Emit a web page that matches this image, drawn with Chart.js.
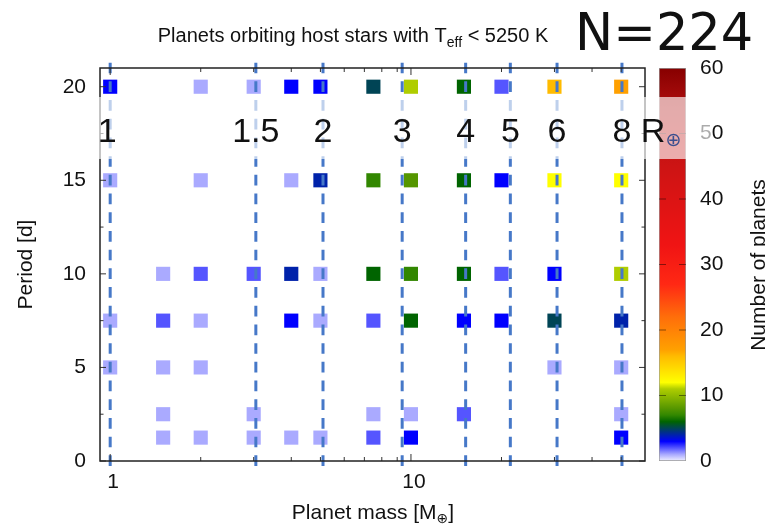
<!DOCTYPE html>
<html>
<head>
<meta charset="utf-8">
<script src="https://cdn.jsdelivr.net/npm/chart.js@4.4.1/dist/chart.umd.min.js"></script>
<style>
  body { margin: 0; background: #fff; }
  #wrap { position: relative; width: 765px; height: 527px; }
  #wrap canvas { position: absolute; left: 0; top: 0; }
</style>
</head>
<body>
<div id="wrap">
  <canvas id="cbar" width="765" height="527"></canvas>
  <canvas id="chart" width="765" height="527"></canvas>
</div>
<script>
// bins of the histogram
const masses = [1, 1.5, 2, 3, 4, 5, 7.5, 10, 15, 20, 30, 50];
const periods = [1.25, 2.5, 5, 7.5, 10, 15, 20];
// planets per cell: one row per period, one column per mass (0 = empty cell)
const counts = [
  [0, 1, 1, 1, 1, 1, 2, 3, 0, 0, 0, 3],
  [0, 1, 0, 1, 0, 0, 1, 1, 2, 0, 0, 1],
  [1, 1, 1, 0, 0, 0, 0, 0, 0, 0, 1, 1],
  [1, 2, 1, 0, 3, 1, 2, 6, 3, 3, 5, 4],
  [0, 1, 2, 2, 4, 1, 6, 7, 6, 2, 3, 11],
  [1, 0, 1, 0, 1, 4, 7, 8, 6, 3, 12, 12],
  [3, 0, 1, 1, 3, 3, 5, 11, 6, 2, 16, 17]
];
// radius marks and the mass each one sits at
const radii = ['1', '1.5', '2', '3', '4', '5', '6', '8'];
const radiusMass = [1.0, 3.05, 5.1, 9.35, 15.2, 21.4, 30.6, 50.3];
const xTicks = [1, 10];
const yTicks = [0, 5, 10, 15, 20];
const cbTicks = [0, 10, 20, 30, 40, 50, 60];
const total = 224;

// colour scale of the colour bar
const cmap = [
  [0, [240, 240, 255]], [1, [170, 170, 255]], [2, [85, 85, 255]], [3, [0, 0, 255]],
  [4, [0, 34, 170]], [5, [0, 68, 85]], [6, [0, 100, 0]], [7, [50, 135, 0]],
  [8, [85, 150, 0]], [11, [175, 205, 0]], [12, [255, 255, 0]], [16, [255, 187, 0]],
  [17, [255, 160, 0]], [22, [255, 110, 10]], [27, [255, 40, 20]], [33, [240, 20, 20]],
  [45, [205, 20, 20]], [54, [175, 15, 15]], [60, [135, 0, 0]]
];

function colorFor(n) {
  for (let i = 1; i < cmap.length; i++) {
    const [v1, c1] = cmap[i];
    const [v0, c0] = cmap[i - 1];
    if (n <= v1) {
      const t = (n - v0) / (v1 - v0);
      const c = c0.map((a, k) => Math.round(a + (c1[k] - a) * t));
      return 'rgb(' + c.join(',') + ')';
    }
  }
  return 'rgb(' + cmap[cmap.length - 1][1].join(',') + ')';
}

const FONT = 'Liberation Sans, Arial, sans-serif';

const cells = [];
const cellColors = [];
periods.forEach((p, i) => {
  masses.forEach((m, j) => {
    const n = counts[i][j];
    if (n > 0) {
      cells.push({x: m, y: p});
      cellColors.push(colorFor(n));
    }
  });
});

const radiusLines = radiusMass.map(m => ({
  type: 'line',
  data: [{x: m, y: 21.285}, {x: m, y: -0.3}],
  borderColor: '#4678c8',
  borderWidth: 3,
  borderDash: [10.7, 8],
  pointRadius: 0,
  clip: false,
  order: 0
}));

// text with a subscript part
function drawParts(ctx, parts, x, y, align) {
  let w = 0;
  parts.forEach(p => { ctx.font = p.font; w += ctx.measureText(p.text).width; });
  let cx = align === 'center' ? x - w / 2 : x;
  ctx.textAlign = 'left';
  ctx.textBaseline = 'alphabetic';
  parts.forEach(p => {
    ctx.font = p.font;
    ctx.fillStyle = p.color || '#111';
    ctx.fillText(p.text, cx, y + (p.dy || 0));
    cx += ctx.measureText(p.text).width;
  });
}

const decorations = {
  id: 'decorations',
  afterDraw(chart) {
    const {ctx, chartArea: a, scales: {x, y}} = chart;
    ctx.save();

    // inward ticks on all four sides
    ctx.strokeStyle = '#333';
    ctx.lineWidth = 1;
    const minorX = [];
    [1, 10].forEach(d => { for (let k = 2; k <= 9; k++) if (k * d < 60) minorX.push(k * d); });
    ctx.beginPath();
    xTicks.forEach(v => {
      const px = x.getPixelForValue(v);
      ctx.moveTo(px, a.bottom); ctx.lineTo(px, a.bottom - 7);
      ctx.moveTo(px, a.top); ctx.lineTo(px, a.top + 7);
    });
    minorX.forEach(v => {
      const px = x.getPixelForValue(v);
      ctx.moveTo(px, a.bottom); ctx.lineTo(px, a.bottom - 4);
      ctx.moveTo(px, a.top); ctx.lineTo(px, a.top + 4);
    });
    for (let v = 0; v <= 20; v += 2.5) {
      const py = y.getPixelForValue(v);
      const len = v % 5 === 0 ? 6 : 3.5;
      ctx.moveTo(a.left, py); ctx.lineTo(a.left + len, py);
      ctx.moveTo(a.right, py); ctx.lineTo(a.right - len, py);
    }
    ctx.stroke();

    // plot frame
    ctx.strokeStyle = '#222';
    ctx.lineWidth = 1.5;
    ctx.strokeRect(a.left, a.top, a.right - a.left, a.bottom - a.top);

    // half transparent box behind the radius labels
    ctx.fillStyle = 'rgba(255,255,255,0.65)';
    ctx.fillRect(96, 97, 615, 62);

    ctx.textBaseline = 'alphabetic';
    radii.forEach((r, i) => {
      const px = x.getPixelForValue(radiusMass[i]) - (i === 0 ? 3 : 0);
      ctx.textAlign = 'center';
      ctx.fillStyle = '#111';
      ctx.font = '34px ' + FONT;
      ctx.fillText(r, px, 142);
      if (i === radii.length - 1) {
        const half = ctx.measureText(r).width / 2;
        drawParts(ctx, [
          {text: ' R', font: '34px ' + FONT},
          {text: '\u2295', font: '19px DejaVu Sans', dy: 4, color: '#3b4f8f'}
        ], px + half, 142, 'left');
      }
    });

    // title and count
    drawParts(ctx, [
      {text: 'Planets orbiting host stars with T', font: '20px ' + FONT},
      {text: 'eff', font: '14px ' + FONT, dy: 5},
      {text: ' < 5250 K', font: '20px ' + FONT}
    ], 353, 42, 'center');
    ctx.fillStyle = '#111';
    ctx.font = '51px DejaVu Sans';
    ctx.textAlign = 'left';
    ctx.fillText('N=' + total, 575, 50);

    // x axis title
    drawParts(ctx, [
      {text: 'Planet mass [M', font: '21px ' + FONT},
      {text: '\u2295', font: '14px DejaVu Sans', dy: 4},
      {text: ']', font: '21px ' + FONT}
    ], 373, 519, 'center');

    // colour bar title
    ctx.translate(765, 265);
    ctx.rotate(-Math.PI / 2);
    ctx.font = '21px ' + FONT;
    ctx.fillStyle = '#111';
    ctx.textAlign = 'center';
    ctx.textBaseline = 'alphabetic';
    ctx.fillText('Number of planets', 0, 0);
    ctx.restore();
  }
};

new Chart(document.getElementById('chart'), {
  data: {
    datasets: [
      {
        type: 'scatter',
        data: cells,
        pointStyle: 'rect',
        pointRadius: 10,
        pointBackgroundColor: cellColors,
        pointBorderWidth: 0,
        order: 1
      },
      ...radiusLines
    ]
  },
  options: {
    responsive: false,
    animation: false,
    events: [],
    layout: {padding: {left: 0, top: 68, right: 120, bottom: 0}},
    plugins: {legend: {display: false}, tooltip: {enabled: false}},
    scales: {
      x: {
        type: 'logarithmic',
        min: 0.925,
        max: 60,
        afterBuildTicks: s => { s.ticks = xTicks.map(v => ({value: v})); },
        afterFit: s => { s.height = 66; },
        grid: {display: false, drawTicks: false},
        border: {display: false},
        ticks: {font: {size: 21, family: FONT}, color: '#111', padding: 9, maxRotation: 0, labelOffset: 3, callback: v => String(v)}
      },
      y: {
        type: 'linear',
        min: 0,
        max: 21,
        afterBuildTicks: s => { s.ticks = yTicks.map(v => ({value: v})); },
        afterFit: s => { s.width = 100; },
        grid: {display: false, drawTicks: false},
        border: {display: false},
        ticks: {font: {size: 21, family: FONT}, color: '#111', padding: 14},
        title: {display: true, text: 'Period [d]', font: {size: 21, family: FONT}, color: '#111', padding: {top: 14}}
      }
    }
  },
  plugins: [decorations]
});

// colour bar
const barMarks = {
  id: 'barMarks',
  afterDatasetsDraw(chart) {
    const {ctx, chartArea: a, scales: {y}} = chart;
    ctx.save();
    ctx.strokeStyle = 'rgba(0,0,0,0.45)';
    ctx.lineWidth = 1;
    ctx.beginPath();
    cbTicks.slice(1, -1).forEach(v => {
      const py = y.getPixelForValue(v);
      ctx.moveTo(a.left, py); ctx.lineTo(a.left + 7, py);
      ctx.moveTo(a.right, py); ctx.lineTo(a.right - 7, py);
    });
    ctx.stroke();
    ctx.restore();
  }
};

new Chart(document.getElementById('cbar'), {
  type: 'bar',
  data: {
    labels: [''],
    datasets: [{
      data: [[0, 60]],
      backgroundColor: c => {
        const chart = c.chart;
        const sy = chart.scales.y;
        if (!chart.chartArea || !sy) return '#fff';
        const g = chart.ctx.createLinearGradient(0, sy.getPixelForValue(0), 0, sy.getPixelForValue(60));
        cmap.forEach(([v, rgb]) => g.addColorStop(v / 60, 'rgb(' + rgb.join(',') + ')'));
        return g;
      },
      borderColor: '#999',
      borderWidth: 1,
      borderSkipped: false,
      barPercentage: 1,
      categoryPercentage: 1
    }]
  },
  options: {
    responsive: false,
    animation: false,
    events: [],
    layout: {padding: {left: 659, top: 68, right: 0, bottom: 66}},
    plugins: {legend: {display: false}, tooltip: {enabled: false}},
    scales: {
      x: {display: false},
      y: {
        position: 'right',
        min: 0,
        max: 60,
        afterBuildTicks: s => { s.ticks = cbTicks.map(v => ({value: v})); },
        afterFit: s => { s.width = 79; },
        grid: {display: false, drawTicks: false},
        border: {display: false},
        ticks: {font: {size: 21, family: FONT}, color: '#111', padding: 14}
      }
    }
  },
  plugins: [barMarks]
});
</script>
</body>
</html>
